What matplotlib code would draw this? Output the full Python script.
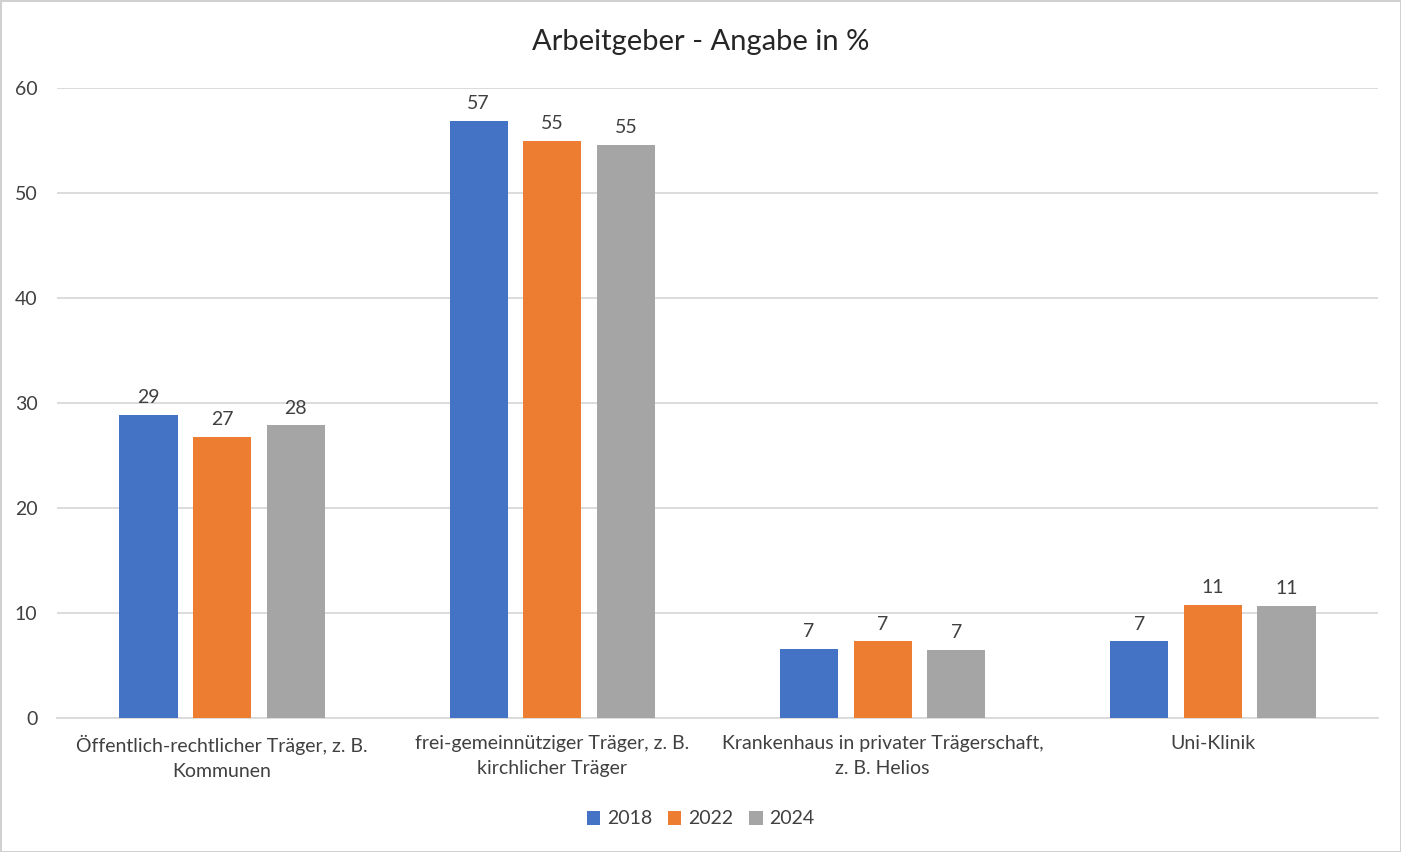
import numpy as np
import matplotlib.pyplot as plt

# - Dados (Angabe in %)
kategorien = [
    'Öffentlich-rechtlicher Träger, z. B.\nKommunen',
    'frei-gemeinnütziger Träger, z. B.\nkirchlicher Träger',
    'Krankenhaus in privater Trägerschaft,\nz. B. Helios',
    'Uni-Klinik',
]
jahre = ['2018', '2022', '2024']
werte_2018 = [28.9, 56.9, 6.6, 7.3]
werte_2022 = [26.8, 55.0, 7.3, 10.8]
werte_2024 = [27.9, 54.6, 6.5, 10.7]
farben = ['#4472C4', '#ED7D31', '#A5A5A5']

plt.rcParams['font.family'] = ['Lato', 'DejaVu Sans']
text_farbe = '#404040'

fig = plt.figure(figsize=(14.01, 8.52), dpi=100)
fig.patch.set_edgecolor('#D0D0D0')
fig.patch.set_linewidth(2)
ax = fig.add_axes([57 / 1401, 1 - 718 / 852, 1321 / 1401, 630 / 852])

x = np.arange(len(kategorien))
breite = 0.176
schritt = 0.223

for i, (jahr, werte) in enumerate(zip(jahre, [werte_2018, werte_2022, werte_2024])):
    pos = x + (i - 1) * schritt
    balken = ax.bar(pos, werte, breite, color=farben[i], label=jahr, zorder=3)
    # - Arredondar para cima a partir de .5 (como no Excel)
    rotulos = [str(int(np.floor(v + 0.5))) for v in werte]
    ax.bar_label(balken, labels=rotulos, padding=6, fontsize=14, color=text_farbe)

ax.set_xlim(-0.5, 3.5)
ax.set_ylim(0, 60)
ax.set_yticks(range(0, 61, 10))
ax.grid(axis='y', color='#D9D9D9', linewidth=1.3, zorder=0)
for lado in ['top', 'right', 'left']:
    ax.spines[lado].set_visible(False)
ax.spines['bottom'].set_color('#D9D9D9')
ax.spines['bottom'].set_linewidth(1.3)
ax.tick_params(axis='both', length=0, labelsize=14, colors=text_farbe)
ax.tick_params(axis='y', pad=14)
ax.tick_params(axis='x', pad=12)
ax.set_xticks(x)
ax.set_xticklabels(kategorien, linespacing=1.6)

fig.text(0.5, 1 - 42 / 852, 'Arbeitgeber - Angabe in %', ha='center', va='center',
         fontsize=21, color='#262626')

fig.legend(loc='center', bbox_to_anchor=(0.5, 1 - 819 / 852), ncol=3, frameon=False,
           fontsize=14, handlelength=0.7, handleheight=0.7, handletextpad=0.35,
           columnspacing=0.8, labelcolor=text_farbe)

fig.savefig('out.png', dpi=100)
